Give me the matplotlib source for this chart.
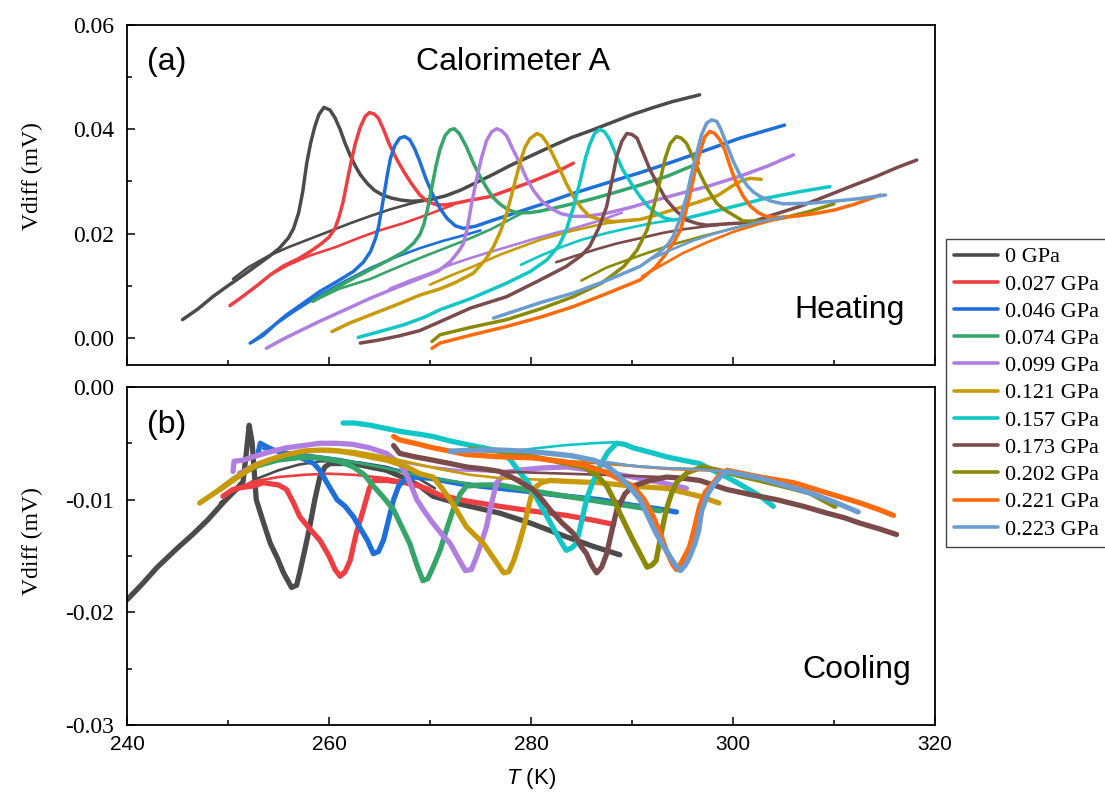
import matplotlib
matplotlib.use("Agg")
import matplotlib.pyplot as plt
from matplotlib.ticker import MultipleLocator, FuncFormatter

plt.rcParams["axes.unicode_minus"] = False
plt.rcParams["mathtext.fontset"] = "custom"
plt.rcParams["mathtext.it"] = "Liberation Sans:italic"
plt.rcParams["mathtext.rm"] = "Liberation Sans"

labels = ["0 GPa", "0.027 GPa", "0.046 GPa", "0.074 GPa", "0.099 GPa", "0.121 GPa",
          "0.157 GPa", "0.173 GPa", "0.202 GPa", "0.221 GPa", "0.223 GPa"]
colors = ["#4b4b4b", "#ef3e42", "#1e6fd9", "#35a56a", "#b07ee0", "#c99a07",
          "#10c6c6", "#7b4a4a", "#8a8a06", "#ff6a0a", "#6a9ccf"]

# ---- heating runs: (T [K], Vdiff [mV]) ----
heat_000 = [(245.5,0.0035),(247,0.0055),(248.5,0.0079),(250,0.0100),(251.5,0.0120),(252.5,0.0134),(254,0.0155),(255.1,0.0172),(256,0.0192),(256.5,0.0210),(257,0.0240),(257.4,0.0280),(257.8,0.0335),(258.2,0.0375),(258.6,0.0405),(259.0,0.0428),(259.5,0.0442),(260.1,0.0437),(260.6,0.0422),(261.1,0.0400),(261.6,0.0373),(262.1,0.0350),(262.6,0.0330),(263.1,0.0313),(263.8,0.0296),(264.5,0.0283),(265.3,0.0274),(266.2,0.0268),(267.2,0.0264),(268.2,0.0262),(269.2,0.0263),(270.2,0.0266),(271.5,0.0272),(273,0.0283),(274.5,0.0297),(276,0.0311),(278,0.0331),(280,0.0349),(282,0.0367),(284,0.0384),(286,0.0398),(288,0.0413),(290,0.0428),(292,0.0441),(294,0.0453),(296.7,0.0466)]
heat_base_000 = [(250.5,0.0113),(252,0.0135),(254,0.0157),(256,0.0174),(258,0.0189),(260,0.0204),(262,0.0219),(264,0.0233),(266,0.0246),(268,0.0257),(270,0.0266)]

heat_027 = [(250.2,0.0062),(251.5,0.0080),(253,0.0102),(254.2,0.0121),(255.5,0.0138),(257,0.0152),(258.1,0.0165),(259.2,0.0180),(260.0,0.0193),(260.6,0.0210),(261.0,0.0232),(261.4,0.0261),(261.8,0.0300),(262.2,0.0338),(262.6,0.0372),(263.1,0.0404),(263.6,0.0425),(264.0,0.0432),(264.5,0.0429),(264.9,0.0421),(265.4,0.0400),(266.0,0.0370),(266.7,0.0343),(267.4,0.0319),(268.2,0.0295),(269.0,0.0274),(269.8,0.0261),(270.7,0.0255),(271.5,0.0255),(272.5,0.0258),(274,0.0264),(276,0.0271),(278,0.0285),(280,0.0299),(281.5,0.0311),(283,0.0323),(284.2,0.0335)]
heat_base_027 = [(254.2,0.0121),(256,0.0140),(258,0.0157),(260.8,0.0175),(263,0.0192),(265,0.0206),(267.4,0.0220),(270,0.0238),(272.3,0.0255)]

heat_046 = [(252.2,-0.0010),(253.5,0.0005),(254.8,0.0028),(255.8,0.0044),(257.5,0.0067),(259.1,0.0089),(260.8,0.0108),(262.4,0.0127),(263.4,0.0145),(264.1,0.0165),(264.6,0.0190),(264.9,0.0212),(265.2,0.0245),(265.5,0.0280),(265.8,0.0315),(266.1,0.0345),(266.5,0.0368),(267.0,0.0383),(267.5,0.0386),(268.0,0.0380),(268.5,0.0362),(269.0,0.0338),(269.6,0.0305),(270.3,0.0274),(271.0,0.0248),(271.7,0.0229),(272.5,0.0215),(273.3,0.0210),(274.5,0.0214),(276.0,0.0224),(278.5,0.0240),(280.9,0.0255),(284,0.0276),(287.5,0.0297),(291,0.0318),(294.1,0.0338),(297.5,0.0361),(300.7,0.0383),(303,0.0396),(305.1,0.0408)]
heat_base_046 = [(252.5,-0.0006),(254.2,0.0019),(256.5,0.0050),(259.1,0.0082),(261.5,0.0108),(264.1,0.0134),(266.5,0.0154),(269,0.0172),(271.3,0.0186),(273.6,0.0198),(275,0.0206)]

heat_074 = [(258.4,0.0070),(260,0.0088),(262.4,0.0114),(264.5,0.0135),(266,0.0150),(267.4,0.0165),(268.4,0.0182),(269.0,0.0198),(269.4,0.0218),(269.8,0.0250),(270.2,0.0290),(270.6,0.0330),(271.0,0.0362),(271.5,0.0388),(272.0,0.0399),(272.4,0.0401),(272.9,0.0392),(273.6,0.0367),(274.3,0.0335),(275.0,0.0308),(275.6,0.0288),(276.2,0.0270),(276.9,0.0257),(277.7,0.0246),(278.6,0.0240),(279.8,0.0240),(280.9,0.0243),(283,0.0252),(285.8,0.0265),(288,0.0277),(290.8,0.0293),(293.5,0.0310),(296.6,0.0335)]
heat_base_074 = [(258.4,0.0070),(261,0.0094),(264.1,0.0113),(266.5,0.0133),(269,0.0153),(271.5,0.0172),(274,0.0191),(276,0.0208),(277.6,0.0224),(279,0.0238)]

heat_099 = [(253.8,-0.0020),(255.5,-0.0002),(257.5,0.0017),(259.1,0.0032),(261.5,0.0053),(264.1,0.0076),(266.5,0.0095),(269.0,0.0114),(270.8,0.0128),(272.0,0.0146),(272.8,0.0165),(273.3,0.0180),(273.7,0.0210),(274.1,0.0255),(274.6,0.0303),(275.1,0.0345),(275.6,0.0378),(276.1,0.0395),(276.6,0.0401),(277.1,0.0397),(277.6,0.0387),(278.2,0.0362),(278.9,0.0335),(279.5,0.0308),(280.2,0.0284),(281.0,0.0264),(281.9,0.0249),(283,0.0238),(284.2,0.0233),(285.5,0.0233),(287.5,0.0239),(290,0.0251),(292.5,0.0265),(295,0.0278),(297.4,0.0290),(300.7,0.0310),(303.5,0.0330),(306.0,0.0351)]
heat_base_099 = [(266,0.0094),(268,0.0110),(270,0.0124),(272,0.0140),(274,0.0153),(276,0.0165),(277.6,0.0174),(280,0.0188),(282,0.0199),(284.2,0.0210),(286.5,0.0223),(289,0.0240)]

heat_121 = [(260.3,0.0012),(262,0.0028),(264.1,0.0044),(266.5,0.0062),(269.0,0.0082),(271.0,0.0094),(272.5,0.0106),(274.3,0.0124),(275.5,0.0150),(276.3,0.0175),(277.0,0.0205),(277.6,0.0239),(278.3,0.0290),(278.9,0.0335),(279.4,0.0365),(279.9,0.0382),(280.6,0.0392),(281.1,0.0387),(281.6,0.0373),(282.2,0.0350),(282.9,0.0322),(283.5,0.0296),(284.2,0.0271),(285.0,0.0249),(285.8,0.0233),(287,0.0226),(288.2,0.0223),(290.8,0.0227),(292.5,0.0236),(294.1,0.0246),(296.5,0.0260),(298.5,0.0273),(300.0,0.0292),(300.8,0.0301),(301.7,0.0306),(302.8,0.0304)]
heat_base_121 = [(270,0.0102),(272,0.0119),(274.3,0.0137),(277,0.0160),(280.9,0.0188),(284,0.0205),(287.5,0.0220),(290.5,0.0227)]

heat_157 = [(262.9,0.0001),(265,0.0012),(267.4,0.0025),(269.5,0.0040),(271.0,0.0054),(274.0,0.0075),(277.6,0.0105),(280,0.0128),(281.6,0.0150),(282.8,0.0178),(283.5,0.0207),(284.2,0.0250),(284.9,0.0303),(285.4,0.0345),(285.8,0.0370),(286.3,0.0392),(286.8,0.0400),(287.3,0.0395),(287.8,0.0380),(288.4,0.0352),(289.1,0.0322),(290.0,0.0294),(290.8,0.0271),(291.6,0.0252),(292.4,0.0239),(293.2,0.0230),(294.1,0.0226),(295.5,0.0230),(297.4,0.0239),(300.7,0.0255),(303.3,0.0268),(306.5,0.0280),(309.6,0.0290)]
heat_base_157 = [(279,0.0140),(281,0.0158),(283,0.0174),(285,0.0188),(287.5,0.0201),(290,0.0212),(292,0.0220),(294.1,0.0226)]

heat_173 = [(263.1,-0.0010),(265,-0.0004),(267,0.0004),(269.0,0.0014),(271.0,0.0031),(274.0,0.0057),(277.6,0.0079),(280.5,0.0107),(283.5,0.0137),(285,0.0158),(285.8,0.0175),(286.7,0.0210),(287.5,0.0252),(288.0,0.0300),(288.5,0.0348),(289.0,0.0377),(289.5,0.0392),(290.0,0.0390),(290.5,0.0383),(291.1,0.0355),(291.8,0.0322),(292.6,0.0292),(293.4,0.0265),(294.4,0.0243),(295.4,0.0226),(296.5,0.0219),(297.4,0.0216),(299.7,0.0219),(301.7,0.0221),(304,0.0236),(306.6,0.0252),(309,0.0270),(311.6,0.0290),(314,0.0308),(316.3,0.0327),(318.2,0.0341)]
heat_base_173 = [(282.5,0.0145),(284.2,0.0156),(286.5,0.0170),(288.5,0.0181),(290.8,0.0191),(293,0.0201),(295,0.0208),(297.4,0.0214),(299.7,0.0219)]

heat_202 = [(270.2,-0.0007),(271.0,0.0006),(274,0.0020),(277.6,0.0035),(281,0.0056),(284.2,0.0079),(287,0.0105),(289.2,0.0137),(290.5,0.0168),(291.5,0.0207),(292.2,0.0255),(292.8,0.0303),(293.3,0.0345),(293.8,0.0373),(294.4,0.0386),(294.9,0.0383),(295.4,0.0373),(296.0,0.0348),(296.7,0.0316),(297.5,0.0285),(298.4,0.0258),(299.2,0.0245),(300.0,0.0236),(301.0,0.0224),(303,0.0224),(305.0,0.0230),(307.5,0.0242),(310.0,0.0257)]
heat_base_202 = [(285,0.0110),(287.5,0.0135),(290.8,0.0158),(294,0.0179),(297.4,0.0197),(300.7,0.0213),(303,0.0222)]

heat_221 = [(270.2,-0.0020),(271.0,-0.0010),(274,0.0005),(277.6,0.0022),(281,0.0040),(284.2,0.0060),(287.5,0.0085),(290.8,0.0111),(292.3,0.0135),(293.4,0.0162),(294.2,0.0185),(294.8,0.0207),(295.3,0.0240),(295.7,0.0271),(296.2,0.0315),(296.7,0.0354),(297.2,0.0385),(297.7,0.0396),(298.2,0.0392),(298.7,0.0380),(299.2,0.0360),(299.7,0.0330),(300.3,0.0298),(301.0,0.0272),(301.7,0.0253),(302.5,0.0240),(303.3,0.0233),(304.5,0.0231),(306.0,0.0233),(308,0.0238),(310.0,0.0245),(312,0.0256),(313.3,0.0265),(314.6,0.0274)]
heat_base_221 = [(291,0.0118),(293,0.0140),(295,0.0162),(297.4,0.0183),(300,0.0203),(302.5,0.0218),(305,0.0231)]

heat_223 = [(276.3,0.0038),(278.5,0.0052),(281,0.0068),(284.2,0.0086),(287.5,0.0110),(290.8,0.0137),(292.5,0.0160),(293.6,0.0180),(294.1,0.0195),(294.8,0.0230),(295.4,0.0271),(295.9,0.0315),(296.4,0.0354),(296.9,0.0390),(297.4,0.0412),(297.9,0.0418),(298.4,0.0415),(298.8,0.0400),(299.4,0.0370),(300.0,0.0340),(300.7,0.0312),(301.4,0.0292),(302.0,0.0280),(302.7,0.0271),(303.8,0.0262),(305.0,0.0257),(307.5,0.0258),(310.0,0.0262),(312.5,0.0267),(315.1,0.0274)]
heat_base_223 = [(292,0.0152),(294,0.0170),(296,0.0186),(298,0.0199),(300,0.0210),(302.5,0.0222),(305,0.0232)]

# ---- cooling runs: (T [K], Vdiff [mV]) ----
cool_000 = [(240.0,-0.0189),(241.5,-0.0175),(243,-0.0160),(245,-0.0143),(246.5,-0.0131),(248,-0.0118),(249.5,-0.0103),(250.7,-0.0092),(251.5,-0.0084),(251.8,-0.0060),(252.1,-0.0034),(252.4,-0.0050),(252.8,-0.0100),(253.5,-0.0120),(254.2,-0.0139),(254.9,-0.0152),(255.5,-0.0165),(256.3,-0.0178),(256.8,-0.0176),(257.1,-0.0165),(257.6,-0.0145),(258.1,-0.0124),(258.6,-0.0100),(259.1,-0.0080),(259.6,-0.0071),(260.1,-0.0068),(262.4,-0.0068),(264,-0.0071),(265.7,-0.0074),(267.5,-0.0081),(269.0,-0.0088),(270.3,-0.0097),(273,-0.0104),(276.9,-0.0112),(280,-0.0121),(283.5,-0.0133),(286,-0.0141),(288.8,-0.0149)]
cool_base_000 = [(249.2,-0.0103),(251,-0.0091),(253,-0.0081),(255,-0.0074),(257,-0.0069),(259.1,-0.0066),(261,-0.0066),(263,-0.0067),(265.7,-0.0071),(267.5,-0.0076),(269.0,-0.0082),(270.5,-0.0090)]

cool_027 = [(249.5,-0.0097),(250.5,-0.0091),(251.5,-0.0089),(252.5,-0.0088),(253.5,-0.0085),(254.2,-0.0086),(255.0,-0.0087),(255.8,-0.0091),(256.5,-0.0103),(257.1,-0.0115),(258.1,-0.0126),(259.1,-0.0136),(260.0,-0.0150),(260.6,-0.0162),(261.1,-0.0168),(261.6,-0.0164),(262.1,-0.0154),(262.7,-0.0130),(263.4,-0.0109),(264.0,-0.0090),(264.4,-0.0083),(265.7,-0.0083),(267.5,-0.0085),(269.0,-0.0088),(271,-0.0096),(273.5,-0.0101),(276.9,-0.0106),(280,-0.0110),(283.5,-0.0114),(286,-0.0118),(288.2,-0.0122)]
cool_base_027 = [(249.8,-0.0095),(252.5,-0.0084),(255,-0.0080),(257.5,-0.0078),(260,-0.0077),(262.5,-0.0078),(265.7,-0.0081),(268,-0.0085),(270,-0.0090)]

cool_046 = [(253.0,-0.0058),(253.2,-0.0050),(253.8,-0.0053),(254.5,-0.0056),(255.8,-0.0059),(257.0,-0.0062),(257.8,-0.0065),(258.5,-0.0068),(259.1,-0.0074),(259.8,-0.0085),(260.8,-0.0100),(261.6,-0.0106),(262.4,-0.0115),(263.2,-0.0127),(263.8,-0.0136),(264.4,-0.0148),(264.9,-0.0146),(265.4,-0.0136),(265.9,-0.0118),(266.4,-0.0100),(266.9,-0.0088),(267.4,-0.0083),(268.5,-0.0080),(270,-0.0081),(273,-0.0086),(276.9,-0.0090),(280,-0.0093),(283.5,-0.0097),(286.8,-0.0100),(290,-0.0105),(292.5,-0.0108),(294.4,-0.0111)]
cool_base_046 = [(253.5,-0.0055),(256,-0.0058),(258.5,-0.0061),(261,-0.0064),(264,-0.0069),(267,-0.0074),(270,-0.0079)]

cool_074 = [(249.2,-0.0091),(250.5,-0.0082),(252.5,-0.0071),(254,-0.0066),(255.8,-0.0063),(257.5,-0.0062),(259.1,-0.0063),(261,-0.0066),(262.4,-0.0071),(263.5,-0.0078),(264.4,-0.0088),(265.4,-0.0098),(266.4,-0.0109),(267.2,-0.0124),(268.0,-0.0139),(268.7,-0.0158),(269.3,-0.0172),(269.8,-0.0170),(270.4,-0.0158),(271.0,-0.0145),(271.7,-0.0125),(272.3,-0.0109),(273.0,-0.0095),(273.6,-0.0088),(275,-0.0087),(276.9,-0.0087),(280,-0.0092),(283.5,-0.0097),(287,-0.0102),(290,-0.0106),(292.8,-0.0110)]
cool_base_074 = [(249.5,-0.0090),(251,-0.0079),(253,-0.0071),(255,-0.0066),(257,-0.0064),(259.5,-0.0063),(262,-0.0066),(265,-0.0071),(268,-0.0077),(271,-0.0082),(274,-0.0086)]

cool_099 = [(250.5,-0.0075),(250.6,-0.0066),(251.5,-0.0065),(252.5,-0.0062),(254,-0.0058),(255.8,-0.0054),(257.5,-0.0052),(259.1,-0.0050),(260.8,-0.0050),(262.4,-0.0051),(264,-0.0054),(265.7,-0.0059),(267.0,-0.0068),(267.8,-0.0080),(268.7,-0.0100),(269.5,-0.0111),(270.3,-0.0121),(271.2,-0.0131),(272.0,-0.0139),(272.8,-0.0152),(273.5,-0.0163),(274.1,-0.0162),(274.6,-0.0151),(275.1,-0.0138),(275.6,-0.0124),(276.1,-0.0103),(276.6,-0.0085),(277.5,-0.0077),(278.6,-0.0074),(281,-0.0072),(283.5,-0.0071),(287,-0.0075),(290.1,-0.0080),(293,-0.0085),(295.4,-0.0090)]
cool_base_099 = [(251,-0.0076),(253,-0.0067),(255,-0.0061),(257,-0.0058),(259,-0.0057),(261,-0.0057),(263,-0.0059),(265,-0.0062),(267.5,-0.0067),(270,-0.0071),(273,-0.0074),(276,-0.0075),(278.5,-0.0074)]

cool_121 = [(247.2,-0.0103),(248.2,-0.0097),(249.2,-0.0091),(250.8,-0.0081),(252.5,-0.0071),(254,-0.0065),(255.8,-0.0060),(257.5,-0.0057),(259.1,-0.0056),(261,-0.0057),(262.4,-0.0059),(264,-0.0062),(265.7,-0.0065),(267.5,-0.0070),(269,-0.0077),(270.3,-0.0080),(271.2,-0.0090),(272.0,-0.0100),(272.8,-0.0112),(273.6,-0.0124),(274.5,-0.0132),(275.3,-0.0139),(276.3,-0.0152),(277.3,-0.0165),(277.8,-0.0164),(278.3,-0.0154),(278.8,-0.0140),(279.3,-0.0124),(279.8,-0.0105),(280.2,-0.0091),(281.0,-0.0085),(281.9,-0.0083),(284,-0.0084),(286.8,-0.0085),(290,-0.0088),(293.4,-0.0090),(296.7,-0.0097),(298.6,-0.0103)]
cool_base_121 = [(247.5,-0.0101),(250,-0.0084),(252.5,-0.0069),(255,-0.0061),(257.5,-0.0056),(260,-0.0055),(262.5,-0.0057),(265,-0.0061),(268,-0.0067),(271,-0.0073),(274,-0.0078),(277,-0.0081),(280,-0.0082),(283,-0.0083)]

cool_157 = [(261.4,-0.0032),(262.5,-0.0032),(264.1,-0.0034),(265.7,-0.0037),(267.4,-0.0040),(269,-0.0042),(270.3,-0.0044),(272,-0.0048),(273.6,-0.0051),(275.3,-0.0054),(276.9,-0.0057),(278.0,-0.0065),(278.8,-0.0075),(279.6,-0.0083),(280.4,-0.0096),(281.2,-0.0109),(281.9,-0.0120),(282.5,-0.0130),(283.0,-0.0138),(283.5,-0.0145),(284.0,-0.0143),(284.5,-0.0139),(285.0,-0.0120),(285.5,-0.0100),(286.1,-0.0085),(286.8,-0.0071),(287.6,-0.0058),(288.5,-0.0050),(289.3,-0.0051),(290.1,-0.0054),(291.8,-0.0058),(293.4,-0.0062),(295,-0.0065),(296.7,-0.0068),(298,-0.0074),(299.4,-0.0080),(301,-0.0088),(302.7,-0.0097),(304.0,-0.0106)]
cool_base_157 = [(277,-0.0058),(280,-0.0055),(283,-0.0052),(286,-0.0050),(288.5,-0.0049)]

cool_173 = [(266.4,-0.0052),(267.0,-0.0059),(268.5,-0.0062),(270.3,-0.0065),(272,-0.0068),(273.6,-0.0071),(275.5,-0.0073),(276.9,-0.0075),(278.5,-0.0082),(280.2,-0.0091),(281.1,-0.0100),(281.9,-0.0109),(283,-0.0120),(284.2,-0.0130),(285.0,-0.0142),(285.5,-0.0148),(286.0,-0.0158),(286.5,-0.0165),(287.0,-0.0160),(287.5,-0.0148),(288.0,-0.0128),(288.5,-0.0109),(289.3,-0.0095),(290.1,-0.0088),(291.8,-0.0083),(293.4,-0.0080),(295,-0.0081),(296.7,-0.0083),(299.4,-0.0091),(302,-0.0096),(304.3,-0.0100),(307,-0.0106),(309.3,-0.0112),(311,-0.0116),(312.6,-0.0121),(314.5,-0.0126),(316.2,-0.0131)]
cool_base_173 = [(277,-0.0075),(280,-0.0076),(283.5,-0.0077),(287,-0.0078),(290,-0.0079),(293,-0.0080)]

cool_202 = [(274.0,-0.0055),(276.9,-0.0057),(278.5,-0.0059),(280.2,-0.0062),(282.5,-0.0066),(285.2,-0.0071),(286.5,-0.0078),(287.5,-0.0088),(288.2,-0.0100),(288.8,-0.0112),(289.5,-0.0125),(290.1,-0.0136),(290.8,-0.0148),(291.5,-0.0160),(292.0,-0.0158),(292.4,-0.0154),(292.9,-0.0130),(293.4,-0.0109),(293.9,-0.0095),(294.4,-0.0085),(295.5,-0.0076),(297.0,-0.0071),(299,-0.0075),(300.8,-0.0079),(302.7,-0.0083),(305,-0.0088),(307.6,-0.0094),(310.1,-0.0106)]
cool_base_202 = [(284,-0.0066),(287,-0.0068),(290,-0.0070),(293,-0.0072),(296.7,-0.0073),(299,-0.0075)]

cool_221 = [(266.4,-0.0044),(267.0,-0.0047),(268.5,-0.0050),(270.3,-0.0054),(272,-0.0057),(273.6,-0.0060),(276.9,-0.0062),(280.2,-0.0063),(283,-0.0066),(285.2,-0.0069),(287.5,-0.0076),(290.1,-0.0088),(291.2,-0.0100),(292.1,-0.0115),(292.8,-0.0130),(293.4,-0.0145),(294.0,-0.0157),(294.4,-0.0162),(294.9,-0.0156),(295.7,-0.0142),(296.2,-0.0125),(296.7,-0.0106),(297.3,-0.0093),(298.0,-0.0086),(298.7,-0.0078),(299.4,-0.0074),(300.5,-0.0076),(302.7,-0.0080),(306.0,-0.0085),(309.3,-0.0094),(312.6,-0.0103),(314.5,-0.0109),(315.9,-0.0114)]
cool_base_221 = [(285,-0.0066),(288,-0.0068),(291,-0.0071),(294,-0.0073),(297,-0.0074),(299.4,-0.0074)]

cool_223 = [(272.0,-0.0057),(274.5,-0.0056),(276.9,-0.0056),(279.5,-0.0057),(281.9,-0.0059),(284,-0.0061),(286.2,-0.0065),(287.5,-0.0070),(288.5,-0.0077),(289.7,-0.0088),(290.8,-0.0100),(291.6,-0.0115),(292.4,-0.0130),(293.1,-0.0141),(293.8,-0.0151),(294.3,-0.0158),(294.8,-0.0163),(295.3,-0.0158),(295.7,-0.0151),(296.2,-0.0140),(296.6,-0.0128),(296.9,-0.0110),(297.5,-0.0095),(298.0,-0.0088),(298.7,-0.0080),(299.4,-0.0075),(300.5,-0.0077),(302.7,-0.0081),(305,-0.0087),(307.6,-0.0094),(310,-0.0102),(312.4,-0.0111)]
cool_base_223 = [(284,-0.0062),(287,-0.0066),(290,-0.0070),(293,-0.0072),(296,-0.0073),(299.4,-0.0075)]

heating = [heat_000, heat_027, heat_046, heat_074, heat_099, heat_121,
           heat_157, heat_173, heat_202, heat_221, heat_223]
heating_base = [heat_base_000, heat_base_027, heat_base_046, heat_base_074, heat_base_099,
                heat_base_121, heat_base_157, heat_base_173, heat_base_202, heat_base_221,
                heat_base_223]
cooling = [cool_000, cool_027, cool_046, cool_074, cool_099, cool_121,
           cool_157, cool_173, cool_202, cool_221, cool_223]
cooling_base = [cool_base_000, cool_base_027, cool_base_046, cool_base_074, cool_base_099,
                cool_base_121, cool_base_157, cool_base_173, cool_base_202, cool_base_221,
                cool_base_223]


def xy(points):
    return [p[0] for p in points], [p[1] for p in points]


fig = plt.figure(figsize=(11.05, 7.95), dpi=100)
ax1 = fig.add_axes([0.1149, 0.5409, 0.7312, 0.4277])
ax2 = fig.add_axes([0.1149, 0.0881, 0.7312, 0.4252])

handles = []
for data, base, col, lab in zip(heating, heating_base, colors, labels):
    t, v = xy(base)
    ax1.plot(t, v, color=col, lw=1.9, solid_capstyle="round")
    t, v = xy(data)
    h, = ax1.plot(t, v, color=col, lw=2.5, solid_capstyle="round", solid_joinstyle="round", label=lab)
    handles.append(h)

for data, base, col in zip(cooling, cooling_base, colors):
    t, v = xy(base)
    ax2.plot(t, v, color=col, lw=1.9, solid_capstyle="round")
    t, v = xy(data)
    ax2.plot(t, v, color=col, lw=3.8, solid_capstyle="round", solid_joinstyle="round")

fmt = FuncFormatter(lambda v, _: "0.00" if abs(v) < 1e-9 else f"{v:.2f}")
for ax in (ax1, ax2):
    ax.set_xlim(240, 320)
    ax.xaxis.set_major_locator(MultipleLocator(20))
    ax.xaxis.set_minor_locator(MultipleLocator(10))
    ax.yaxis.set_major_formatter(fmt)
    ax.tick_params(which="both", direction="in", top=False, right=False, width=1.1)
    ax.tick_params(which="major", length=6)
    ax.tick_params(which="minor", length=3.5)
    ax.tick_params(axis="y", pad=9)
    for s in ax.spines.values():
        s.set_linewidth(1.3)
    ax.set_ylabel("Vdiff (mV)", fontfamily="Liberation Serif", fontsize=17)

ax1.set_ylim(-0.0052, 0.06)
ax1.yaxis.set_major_locator(MultipleLocator(0.02))
ax1.yaxis.set_minor_locator(MultipleLocator(0.01))
ax1.tick_params(axis="x", labelbottom=False)
ax1.yaxis.set_label_coords(-0.104, 0.556)

ax2.set_ylim(-0.03, 0.0)
ax2.yaxis.set_major_locator(MultipleLocator(0.01))
ax2.yaxis.set_minor_locator(MultipleLocator(0.005))
ax2.yaxis.set_label_coords(-0.104, 0.544)
ax2.tick_params(axis="x", pad=7)

for ax in (ax1, ax2):
    for lbl in ax.get_yticklabels():
        lbl.set_fontfamily("Liberation Serif")
        lbl.set_fontsize(17)
for lbl in ax2.get_xticklabels():
    lbl.set_fontfamily("Liberation Sans")
    lbl.set_fontsize(15)
ax2.set_xlabel("$T$ (K)", fontfamily="Liberation Sans", fontsize=16, labelpad=9)

sans = dict(fontfamily="Liberation Sans", fontsize=23)
ax1.text(0.025, 0.891, "(a)", transform=ax1.transAxes, ha="left", va="center", **sans)
ax1.text(0.478, 0.891, "Calorimeter A", transform=ax1.transAxes, ha="center", va="center", **sans)
ax1.text(0.963, 0.162, "Heating", transform=ax1.transAxes, ha="right", va="center", **sans)
ax2.text(0.025, 0.888, "(b)", transform=ax2.transAxes, ha="left", va="center", **sans)
ax2.text(0.970, 0.163, "Cooling", transform=ax2.transAxes, ha="right", va="center", **sans)

leg = fig.legend(handles=handles, loc="upper left", bbox_to_anchor=(946 / 1105, 1 - 239 / 795),
                 prop={"family": "Liberation Serif", "size": 16}, frameon=True, fancybox=False,
                 edgecolor="#444444", framealpha=1, handlelength=2.0, handletextpad=0.3,
                 labelspacing=0.3, borderpad=0.35, borderaxespad=0)
leg.get_frame().set_linewidth(1.0)
for line in leg.get_lines():
    line.set_linewidth(2.6)

fig.savefig("out.png", dpi=100)
